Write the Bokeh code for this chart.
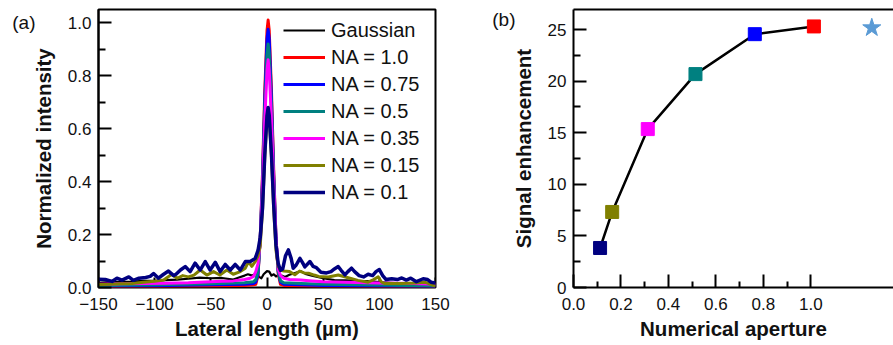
from bokeh.plotting import figure
from bokeh.layouts import row
from bokeh.models import (FixedTicker, PrintfTickFormatter, Legend, LegendItem,
                          LinearAxis, Range1d)
from bokeh.embed import file_html
from bokeh.resources import INLINE

FONT = "Liberation Sans"

# ---------------- panel (a) data: lateral profiles ----------------
gauss_x = [-150, -140, -130, -120, -110, -100, -90, -80, -70, -60, -50, -40, -30, -25, -20, -17, -13,
           -10, -7, -5, -3, 0, 2, 4, 6, 8, 10, 13, 16, 20, 25, 30, 35, 40, 50, 60, 70, 80, 90, 100,
           110, 120, 130, 140, 150]
gauss_y = [0.018, 0.02, 0.02, 0.022, 0.025, 0.025, 0.028, 0.03, 0.033, 0.037, 0.035, 0.036, 0.03, 0.038,
           0.045, 0.05, 0.045, 0.052, 0.04, 0.035, 0.05, 0.062, 0.06, 0.045, 0.05, 0.042, 0.046, 0.045,
           0.04, 0.048, 0.055, 0.062, 0.05, 0.045, 0.035, 0.028, 0.027, 0.025, 0.024, 0.02, 0.018, 0.016,
           0.015, 0.014, 0.012]

na10_x = [-150, -100, -50, -20, -12, -10, -8, -6, -4, -2, 0, 1, 2, 4, 6, 8, 10, 12, 15, 50, 100, 150]
na10_y = [0.004, 0.004, 0.006, 0.008, 0.01, 0.012, 0.045, 0.19, 0.43, 0.74, 0.97, 1.01, 0.97, 0.74,
          0.44, 0.19, 0.05, 0.012, 0.008, 0.005, 0.004, 0.003]

na075_x = [-150, -100, -50, -20, -12, -10, -8, -6, -4, -2, 0, 1, 2, 4, 6, 8, 10, 12, 15, 50, 100, 150]
na075_y = [0.006, 0.007, 0.01, 0.012, 0.015, 0.02, 0.05, 0.19, 0.41, 0.71, 0.94, 0.975, 0.94, 0.71,
           0.42, 0.19, 0.06, 0.02, 0.012, 0.008, 0.006, 0.004]

na05_x = [-150, -100, -50, -20, -12, -10, -8, -6, -4, -2, 0, 1, 2, 4, 6, 8, 10, 12, 15, 30, 50, 100, 150]
na05_y = [0.008, 0.01, 0.014, 0.018, 0.022, 0.03, 0.06, 0.18, 0.39, 0.67, 0.88, 0.92, 0.88, 0.67,
          0.40, 0.18, 0.06, 0.025, 0.018, 0.015, 0.012, 0.009, 0.006]

na035_x = [-150, -130, -110, -90, -70, -50, -40, -30, -20, -15, -12, -10, -8, -6, -4, -2, 0, 1, 2, 4,
           6, 8, 10, 12, 15, 20, 30, 40, 50, 70, 100, 130, 150]
na035_y = [0.012, 0.014, 0.015, 0.016, 0.018, 0.022, 0.024, 0.025, 0.03, 0.035, 0.042, 0.06, 0.09,
           0.17, 0.37, 0.63, 0.82, 0.86, 0.82, 0.63, 0.38, 0.18, 0.07, 0.045, 0.035, 0.03, 0.028,
           0.025, 0.022, 0.02, 0.017, 0.015, 0.012]

na015_x = [-150, -140, -130, -120, -110, -100, -92, -85, -80, -75, -70, -65, -59.5, -53.5, -47.6, -42,
           -35.7, -30, -23.8, -19.3, -16.4, -13.5, -10.5, -8, -6, -4, -2, 0, 1, 2, 4, 6, 8, 10, 12,
           15, 20, 24.8, 29, 33, 37, 42, 46, 54.5, 63.4, 72.3, 81, 90, 95, 99, 102, 105, 119.5, 131.7,
           140.6, 148, 150]
na015_y = [0.011, 0.012, 0.014, 0.015, 0.02, 0.024, 0.028, 0.049, 0.035, 0.045, 0.04, 0.047, 0.066,
           0.047, 0.06, 0.047, 0.066, 0.05, 0.06, 0.073, 0.098, 0.08, 0.098, 0.12, 0.16, 0.29, 0.49,
           0.64, 0.67, 0.64, 0.49, 0.29, 0.14, 0.08, 0.065, 0.062, 0.06, 0.048, 0.062, 0.055, 0.054,
           0.047, 0.042, 0.04, 0.047, 0.037, 0.027, 0.02, 0.03, 0.04, 0.02, 0.015, 0.015, 0.017, 0.02,
           0.008, 0.006]

na01_x = [-150, -144, -138, -133.6, -129, -123, -119, -114, -108, -104, -101, -96.6, -92, -87.7, -83,
          -81, -77, -72.8, -68.4, -64, -59.5, -55, -50.6, -46, -41.7, -37.2, -32.7, -28.3, -23.8,
          -19.3, -14.9, -10.5, -8, -6, -4, -2, 0, 1, 2, 4, 6, 8, 10, 12, 14, 16.5, 19, 21.5, 23.3, 26,
          29.3, 31.5, 33.7, 38.2, 41, 44, 48, 53, 57, 60, 63.4, 66, 69.4, 72, 75.2, 78, 82, 86, 90,
          94, 97, 100, 103, 106, 111, 116, 120, 124, 128, 133, 139, 143, 146, 150]
na01_y = [0.031, 0.03, 0.023, 0.035, 0.028, 0.04, 0.027, 0.035, 0.038, 0.042, 0.053, 0.035, 0.05,
          0.062, 0.045, 0.05, 0.066, 0.079, 0.06, 0.092, 0.066, 0.098, 0.066, 0.095, 0.06, 0.087,
          0.066, 0.087, 0.066, 0.098, 0.098, 0.11, 0.14, 0.19, 0.30, 0.50, 0.65, 0.68, 0.65, 0.50,
          0.31, 0.16, 0.09, 0.065, 0.07, 0.12, 0.142, 0.11, 0.073, 0.085, 0.11, 0.095, 0.078, 0.098,
          0.08, 0.075, 0.058, 0.055, 0.06, 0.07, 0.079, 0.065, 0.048, 0.06, 0.073, 0.06, 0.045, 0.04,
          0.05, 0.045, 0.06, 0.068, 0.045, 0.03, 0.033, 0.03, 0.036, 0.028, 0.035, 0.022, 0.033,
          0.03, 0.02, 0.017]

series_labels = ["Gaussian", "NA = 1.0", "NA = 0.75", "NA = 0.5", "NA = 0.35", "NA = 0.15", "NA = 0.1"]
series_colors = ["#000000", "#ff0000", "#0000ff", "#008080", "#ff00ff", "#808000", "#000080"]

x_ticks_a = [-150, -100, -50, 0, 50, 100, 150]
y_ticks_a = [0.0, 0.2, 0.4, 0.6, 0.8, 1.0]
y_minor_a = [0.1, 0.3, 0.5, 0.7, 0.9]
panel_a_tag = {1: "(a)"}

# ---------------- panel (b) data: signal enhancement ----------------
na_values = [0.112, 0.163, 0.313, 0.514, 0.764, 1.013]
enhancement = [3.83, 7.32, 15.35, 20.68, 24.55, 25.3]
marker_colors = ["#000080", "#808000", "#ff00ff", "#008080", "#0000ff", "#ff0000"]
star_x = [1.257]
star_y = [25.17]

x_ticks_b = [0.0, 0.2, 0.4, 0.6, 0.8, 1.0]
x_minor_b = [0.1, 0.3, 0.5, 0.7, 0.9]
y_ticks_b = [0, 5, 10, 15, 20, 25]
y_minor_b = [2.5, 7.5, 12.5, 17.5, 22.5]
panel_b_tag = {26: "(b)"}

TICK_FS = "17px"
LABEL_FS = "20.5px"
INK = "#111111"


def style_axis(ax):
    ax.major_label_text_font = FONT
    ax.major_label_text_font_size = TICK_FS
    ax.major_label_text_color = INK
    ax.axis_label_text_font = FONT
    ax.axis_label_text_font_size = LABEL_FS
    ax.axis_label_text_font_style = "bold"
    ax.axis_label_text_color = INK
    ax.axis_line_width = 2
    ax.major_tick_line_width = 2
    ax.minor_tick_line_width = 2


def tag_axis(tag):
    t = list(tag.keys())
    return LinearAxis(ticker=FixedTicker(ticks=t), major_label_overrides=tag,
                      axis_line_color=None, major_tick_line_color=None,
                      minor_tick_line_color=None, major_tick_in=0, major_tick_out=0,
                      minor_tick_in=0, minor_tick_out=0, major_label_standoff=-7,
                      major_label_text_font=FONT, major_label_text_font_size="19px",
                      major_label_text_color=INK)


# ---------------- figure (a) ----------------
p1 = figure(width=450, height=345, x_range=Range1d(-150, 150), y_range=Range1d(0, 1.05),
            output_backend="svg", toolbar_location=None, x_axis_location=None,
            min_border_left=98, min_border_right=15, min_border_top=9, min_border_bottom=58)
p1.grid.visible = False
p1.outline_line_color = "black"
p1.outline_line_width = 2
p1.background_fill_color = "white"

xs = [gauss_x, na10_x, na075_x, na05_x, na035_x, na015_x, na01_x]
ys = [gauss_y, na10_y, na075_y, na05_y, na035_y, na015_y, na01_y]
widths = [2.2, 3, 3, 3, 3, 3, 3.5]
items = []
for xx, yy, c, lab, w in zip(xs, ys, series_colors, series_labels, widths):
    r = p1.line(xx, yy, line_color=c, line_width=w, line_join="round")
    items.append(LegendItem(label=lab, renderers=[r]))

legend = Legend(items=items, location=(185, 83.5), glyph_width=42, glyph_height=20,
                label_height=20, spacing=4, padding=0, margin=0, label_standoff=6,
                border_line_color=None, background_fill_alpha=0,
                label_text_font=FONT, label_text_font_size="20px", label_text_color=INK)
p1.add_layout(legend, "center")

# inner x axis: tick marks only, drawn beneath the curves (labels not painted)
tick_ax = LinearAxis(ticker=FixedTicker(ticks=x_ticks_a), major_tick_in=10, major_tick_out=0,
                     minor_tick_in=0, minor_tick_out=0, major_label_text_font_size="1px",
                     major_label_text_color=None, major_label_standoff=0,
                     axis_line_color=None, major_tick_line_width=2)
tick_ax.level = "underlay"
p1.add_layout(tick_ax, "below")

# outer x axis: labels
ax = LinearAxis(ticker=FixedTicker(ticks=x_ticks_a))
style_axis(ax)
ax.axis_line_color = None
ax.major_tick_in = 0
ax.major_tick_out = 0
ax.minor_tick_in = 0
ax.minor_tick_out = 0
ax.major_label_standoff = 10
ax.axis_label_standoff = 4
ax.axis_label = "Lateral length (µm)"
p1.add_layout(ax, "below")

ay = p1.yaxis[0]
style_axis(ay)
ay.ticker = FixedTicker(ticks=y_ticks_a, minor_ticks=y_minor_a)
ay.formatter = PrintfTickFormatter(format="%.1f")
ay.major_tick_in = 13
ay.major_tick_out = 0
ay.minor_tick_in = 7
ay.minor_tick_out = 0
ay.major_label_standoff = 7
ay.axis_label_standoff = 10
ay.axis_label = "Normalized intensity"

p1.add_layout(tag_axis(panel_a_tag), "left")

# ---------------- figure (b) ----------------
p2 = figure(width=443, height=345, x_range=Range1d(0, 1.3485), y_range=Range1d(0, 26.94),
            output_backend="svg", toolbar_location=None,
            min_border_left=123, min_border_right=0, min_border_top=9, min_border_bottom=58)
p2.grid.visible = False
p2.outline_line_color = None

p2.line(na_values, enhancement, line_color="black", line_width=2.5, line_join="round")
p2.scatter(na_values, enhancement, marker="square", size=13, fill_color=marker_colors,
           line_color=marker_colors)
p2.scatter(star_x, star_y, marker="star", size=19, fill_color="#5b9bd5", line_color="#5b9bd5")

bx = p2.xaxis[0]
style_axis(bx)
bx.ticker = FixedTicker(ticks=x_ticks_b, minor_ticks=x_minor_b)
bx.formatter = PrintfTickFormatter(format="%.1f")
bx.major_tick_in = 13
bx.major_tick_out = 0
bx.minor_tick_in = 6
bx.minor_tick_out = 0
bx.major_label_standoff = 10
bx.axis_label_standoff = 4
bx.axis_label = "Numerical aperture"

by = p2.yaxis[0]
style_axis(by)
by.ticker = FixedTicker(ticks=y_ticks_b, minor_ticks=y_minor_b)
by.major_tick_in = 13
by.major_tick_out = 0
by.minor_tick_in = 7
by.minor_tick_out = 0
by.major_label_standoff = 7
by.axis_label_standoff = 10
by.axis_label = "Signal enhancement"

p2.add_layout(tag_axis(panel_b_tag), "left")

top_axis = LinearAxis(ticker=FixedTicker(ticks=[]), major_tick_in=0, major_tick_out=0,
                      minor_tick_in=0, minor_tick_out=0, major_label_text_font_size="1px",
                      major_label_text_color=None,
                      major_label_standoff=0, axis_line_width=2, axis_label_standoff=0)
p2.add_layout(top_axis, "above")

layout = row(p1, p2)
open("out.html", "w").write(file_html(layout, INLINE))
